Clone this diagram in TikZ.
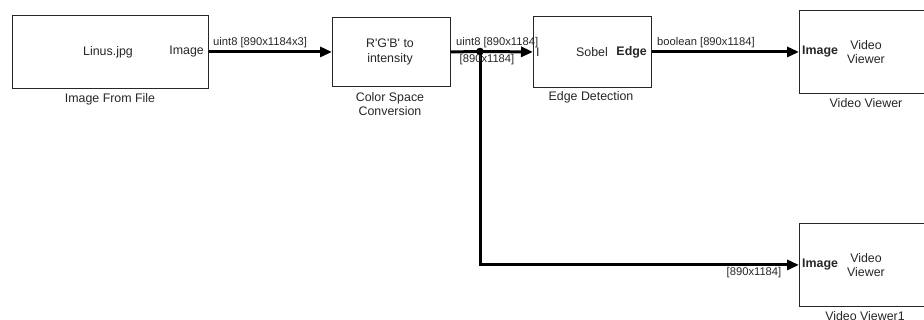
\documentclass[tikz,border=0pt]{standalone}
\usepackage{fontspec}
\setmainfont{Liberation Sans}
\usetikzlibrary{arrows.meta}
\tikzset{
  blk/.style={draw=black!85, line width=0.9pt, fill=white, inner sep=0pt, anchor=north west},
  btxt/.style={font=\fontsize{12.4}{14.5}\selectfont, align=center, inner sep=0pt, text=black!85},
  ltxt/.style={font=\fontsize{11.2}{12}\selectfont, inner sep=0pt, text=black!85},
  sig/.style={line width=3pt, -{Triangle[length=12pt,width=10pt]}},
  wire/.style={line width=3pt}
}
\begin{document}
\begin{tikzpicture}[x=1pt,y=-1pt]
\useasboundingbox (0,0) rectangle (924,320);
\clip (0,0) rectangle (924,320);
% blocks
\node[blk, minimum width=196pt, minimum height=73pt] (b1) at (12,15) {};
\node[blk, minimum width=118pt, minimum height=69pt] (b2) at (332,17) {};
\node[blk, minimum width=118pt, minimum height=71pt] (b3) at (533,16) {};
\node[blk, minimum width=132pt, minimum height=83pt] (b4) at (799,10) {};
\node[blk, minimum width=132pt, minimum height=83pt] (b5) at (799,223) {};
% block texts
\node[btxt] (t1) at (108,52) {Linus.jpg};
\node[btxt, anchor=east] (p1) at (204,52) {Image};
\node[btxt] (n1) at (110,99) {Image From File};
\node[btxt] (t2) at (390,52) {R\textquotesingle G\textquotesingle B\textquotesingle{} to\\intensity};
\node[btxt] (n2) at (390,104) {Color Space\\Conversion};
\node[btxt, anchor=west] (p3i) at (536,52) {I};
\node[btxt] (t3) at (592,52) {Sobel};
\node[btxt, anchor=east, font=\fontsize{12.4}{14.5}\selectfont\bfseries] (p3o) at (647,52) {Edge};
\node[btxt] (n3) at (591,97) {Edge Detection};
\node[btxt, anchor=west, font=\fontsize{12.4}{14.5}\selectfont\bfseries] (p4) at (802,52) {Image};
\node[btxt] (t4) at (866,52) {Video\\Viewer};
\node[btxt] (n4) at (866,103) {Video Viewer};
\node[btxt, anchor=west, font=\fontsize{12.4}{14.5}\selectfont\bfseries] (p5) at (802,265) {Image};
\node[btxt] (t5) at (866,265) {Video\\Viewer};
\node[btxt] (n5) at (865,316) {Video Viewer1};
% connectors
\coordinate (j) at (480,51.5);
\draw[sig] (b1.east) -- (b2.west);
\draw[wire] (b2.east) -- (j);
\draw[sig] (j) -- (b3.west);
\draw[sig] (j) |- (b5.west);
\draw[sig] (b3.east) -- (b4.west);
\fill (j) circle (3.8pt);
% line labels
\node[ltxt, anchor=west] (l1) at (213,43) {uint8 [890x1184x3]};
\node[ltxt, anchor=west] (l2) at (456,43) {uint8 [890x1184]};
\node[ltxt] (l3) at (487,60) {[890x1184]};
\node[ltxt, anchor=west] (l4) at (657,43) {boolean [890x1184]};
\node[ltxt] (l5) at (754,273) {[890x1184]};
\end{tikzpicture}
\end{document}
